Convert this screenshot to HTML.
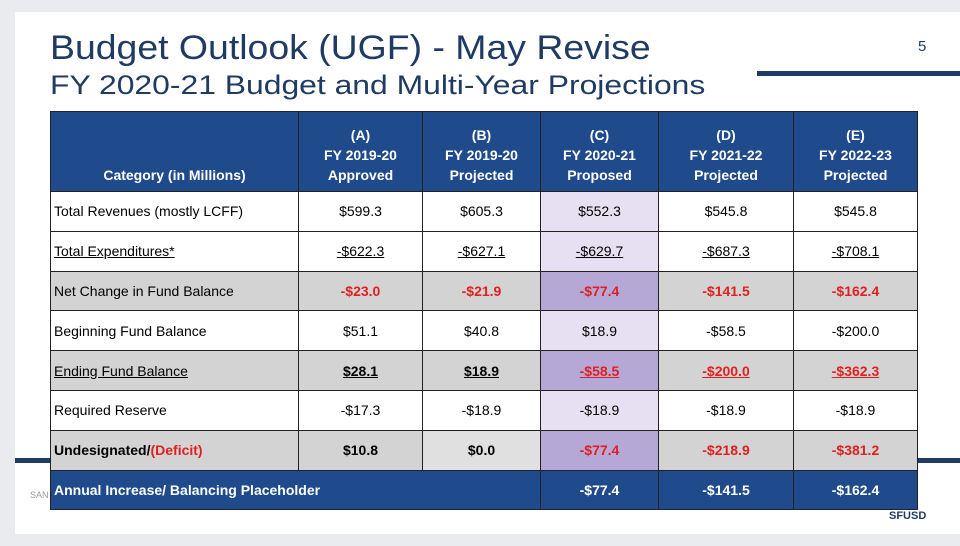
<!DOCTYPE html>
<html><head><meta charset="utf-8"><style>
body{margin:0;width:960px;height:546px;background:#e9ebee;position:relative;overflow:hidden;font-family:"Liberation Sans",sans-serif}
.slide{position:absolute;left:15px;top:12px;width:945px;height:522px;background:#fff}
.t1{position:absolute;left:50px;top:29px;font-size:34px;color:#1f3b63;white-space:nowrap;transform:scaleX(1.1);transform-origin:0 0}
.t2{position:absolute;left:50px;top:70px;font-size:27px;color:#1f3b63;white-space:nowrap;transform:scaleX(1.18);transform-origin:0 0}
.num{position:absolute;left:918px;top:38px;font-size:15px;color:#1f3b63}
.bar1{position:absolute;left:757px;top:71px;width:203px;height:5px;background:#1f3b63}
.bar2{position:absolute;left:15px;top:458px;width:945px;height:5px;background:#1f3b63}
table{position:absolute;left:50px;top:111px;border-collapse:collapse;font-size:14px;table-layout:fixed}
td,th{border:1px solid #222;padding:0;text-align:center;height:38.8px}
th{background:#1f4a8c;color:#fff;font-weight:bold;height:73px;line-height:20px;vertical-align:bottom;padding-bottom:6px;font-size:14px}
td.l{text-align:left;padding-left:3px}
.g td{background:#d3d3d3}.g td.c{background:#b6a8d6}.w td.c{background:#e7e0f2}
.r{color:#e02020;font-weight:bold}.u{text-decoration:underline}.b{font-weight:bold}
.blue td{background:#1f4a8c;color:#fff;font-weight:bold}
.sf{position:absolute;left:889px;top:510px;font-size:11px;font-weight:bold;color:#1f3b63}
.san{position:absolute;left:30px;top:490px;font-size:9px;color:#999}
</style></head><body>
<div class="slide"></div>
<div class="t1">Budget Outlook (UGF) - May Revise</div>
<div class="t2">FY 2020-21 Budget and Multi-Year Projections</div>
<div class="num">5</div>
<div class="bar1"></div>
<div class="bar2"></div>
<div class="san">SAN</div>
<div class="sf">SFUSD</div>
<table>
<colgroup><col style="width:248px"><col style="width:124px"><col style="width:118px"><col style="width:118px"><col style="width:135px"><col style="width:124px"></colgroup>
<tr><th>Category (in Millions)</th><th>(A)<br>FY 2019-20<br>Approved</th><th>(B)<br>FY 2019-20<br>Projected</th><th>(C)<br>FY 2020-21<br>Proposed</th><th>(D)<br>FY 2021-22<br>Projected</th><th>(E)<br>FY 2022-23<br>Projected</th></tr>
<tr class="w"><td class="l">Total Revenues (mostly LCFF)</td><td>$599.3</td><td>$605.3</td><td class="c">$552.3</td><td>$545.8</td><td>$545.8</td></tr>
<tr class="w"><td class="l u">Total Expenditures*</td><td class="u">-$622.3</td><td class="u">-$627.1</td><td class="c u">-$629.7</td><td class="u">-$687.3</td><td class="u">-$708.1</td></tr>
<tr class="g"><td class="l">Net Change in Fund Balance</td><td class="r">-$23.0</td><td class="r">-$21.9</td><td class="c r">-$77.4</td><td class="r">-$141.5</td><td class="r">-$162.4</td></tr>
<tr class="w"><td class="l">Beginning Fund Balance</td><td>$51.1</td><td>$40.8</td><td class="c">$18.9</td><td>-$58.5</td><td>-$200.0</td></tr>
<tr class="g"><td class="l u">Ending Fund Balance</td><td class="b u">$28.1</td><td class="b u">$18.9</td><td class="c r u">-$58.5</td><td class="r u">-$200.0</td><td class="r u">-$362.3</td></tr>
<tr class="w"><td class="l">Required Reserve</td><td>-$17.3</td><td>-$18.9</td><td class="c">-$18.9</td><td>-$18.9</td><td>-$18.9</td></tr>
<tr class="g"><td class="l b">Undesignated/<span class="r">(Deficit)</span></td><td class="b">$10.8</td><td class="b" style="background:#e0e0e0">$0.0</td><td class="c r">-$77.4</td><td class="r">-$218.9</td><td class="r">-$381.2</td></tr>
<tr class="blue"><td class="l" colspan="3">Annual Increase/ Balancing Placeholder</td><td>-$77.4</td><td>-$141.5</td><td>-$162.4</td></tr>
</table>
</body></html>
